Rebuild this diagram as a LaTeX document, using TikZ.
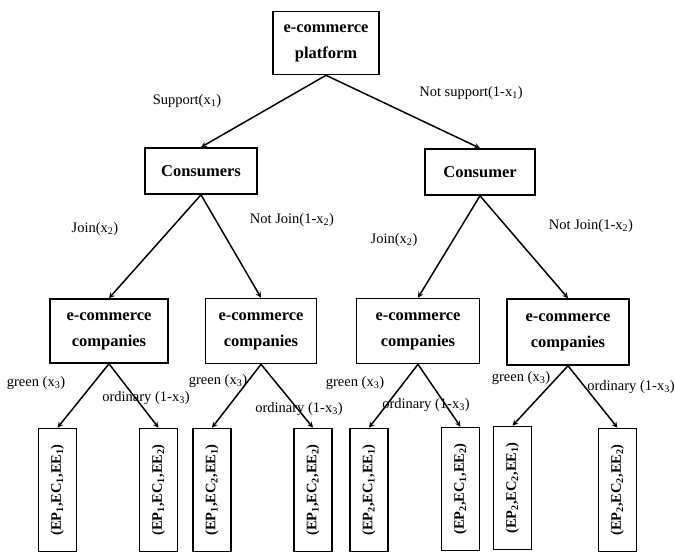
\documentclass[tikz,border=0pt]{standalone}
\usepackage{fontspec}
\setmainfont{Liberation Serif}
\usetikzlibrary{arrows}

\tikzset{
  box/.style={draw, line width=1.6pt, align=center, inner sep=2pt,
    font=\fontsize{16.5}{26}\selectfont\bfseries},
  leaf/.style={draw, line width=1.6pt, rotate=90, inner sep=2pt,
    minimum width=123pt, minimum height=38pt,
    font=\fontsize{14.5}{16}\selectfont\bfseries},
  lab/.style={inner sep=0pt, font=\fontsize{14.5}{16}\selectfont},
  link/.style={->, line width=1.5pt},
}

\begin{document}
\begin{tikzpicture}[x=1pt, y=-1pt, >=stealth]
        \useasboundingbox (0,0) rectangle (675,553);
        % top level
        \node[box, minimum width=106pt, minimum height=63pt] (plat) at (326,43) {e-commerce\\platform};
        \node[box, minimum width=112pt, minimum height=46pt] (cons1) at (201,171) {Consumers};
        \node[box, minimum width=110pt, minimum height=46pt] (cons2) at (480,172) {Consumer};
        % companies
        \node[box, minimum width=118pt, minimum height=64pt] (comp1) at (109,331) {e-commerce\\companies};
        \node[box, minimum width=111pt, minimum height=65pt] (comp2) at (261,331) {e-commerce\\companies};
        \node[box, minimum width=123pt, minimum height=65pt] (comp3) at (418,331) {e-commerce\\companies};
        \node[box, minimum width=122pt, minimum height=66pt] (comp4) at (568,332) {e-commerce\\companies};
        % outcomes
        \node[leaf] (out1) at (57.5,490) {(EP\textsubscript{1},EC\textsubscript{1},EE\textsubscript{1})};
        \node[leaf] (out2) at (158.5,490) {(EP\textsubscript{1},EC\textsubscript{1},EE\textsubscript{2})};
        \node[leaf] (out3) at (212,490) {(EP\textsubscript{1},EC\textsubscript{2},EE\textsubscript{1})};
        \node[leaf] (out4) at (313,490) {(EP\textsubscript{1},EC\textsubscript{2},EE\textsubscript{2})};
        \node[leaf] (out5) at (369,490) {(EP\textsubscript{2},EC\textsubscript{1},EE\textsubscript{1})};
        \node[leaf] (out6) at (460.5,489) {(EP\textsubscript{2},EC\textsubscript{1},EE\textsubscript{2})};
        \node[leaf] (out7) at (512.5,488) {(EP\textsubscript{2},EC\textsubscript{2},EE\textsubscript{1})};
        \node[leaf] (out8) at (617.5,490) {(EP\textsubscript{2},EC\textsubscript{2},EE\textsubscript{2})};
        % branches
        \draw[link] (plat.south) -- (cons1.north);
        \draw[link] (plat.south) -- (cons2.north);
        \draw[link] (cons1.south) -- (comp1.north);
        \draw[link] (cons1.south) -- (comp2.north);
        \draw[link] (cons2.south) -- (comp3.north);
        \draw[link] (cons2.south) -- (comp4.north);
        \draw[link] (comp1.south) -- (out1.east);
        \draw[link] (comp1.south) -- (out2.east);
        \draw[link] (comp2.south) -- (out3.east);
        \draw[link] (comp2.south) -- (out4.east);
        \draw[link] (comp3.south) -- (out5.east);
        \draw[link] (comp3.south) -- (out6.east);
        \draw[link] (comp4.south) -- (out7.east);
        \draw[link] (comp4.south) -- (out8.east);
        % probabilities
        \node[lab] (p1) at (187,101) {Support(x\textsubscript{1})};
        \node[lab] (p2) at (471,93) {Not support(1-x\textsubscript{1})};
        \node[lab] (p3) at (95,229) {Join(x\textsubscript{2})};
        \node[lab] (p4) at (292,220) {Not Join(1-x\textsubscript{2})};
        \node[lab] (p5) at (394,240) {Join(x\textsubscript{2})};
        \node[lab] (p6) at (591,226) {Not Join(1-x\textsubscript{2})};
        \node[lab] (g1) at (36,383) {green (x\textsubscript{3})};
        \node[lab] (o1) at (146,398) {ordinary (1-x\textsubscript{3})};
        \node[lab] (g2) at (218,381) {green (x\textsubscript{3})};
        \node[lab] (o2) at (299,409) {ordinary (1-x\textsubscript{3})};
        \node[lab] (g3) at (355,383) {green (x\textsubscript{3})};
        \node[lab] (o3) at (426,405) {ordinary (1-x\textsubscript{3})};
        \node[lab] (g4) at (521,378) {green (x\textsubscript{3})};
        \node[lab] (o4) at (631,387) {ordinary (1-x\textsubscript{3})};
    \end{tikzpicture}
\end{document}
